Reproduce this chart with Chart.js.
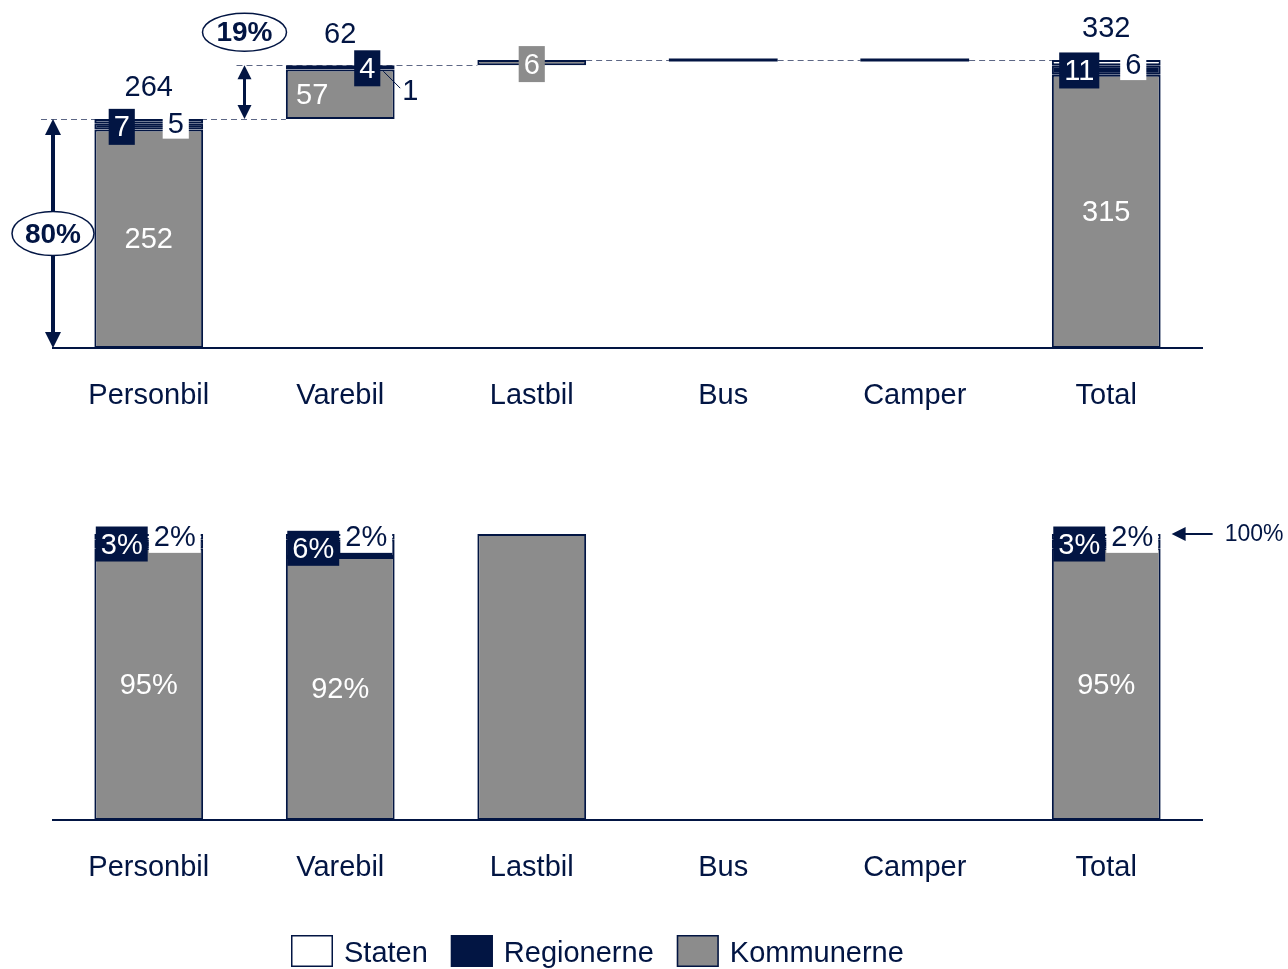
<!DOCTYPE html>
<html>
<head>
<meta charset="utf-8">
<script src="https://cdn.jsdelivr.net/npm/chart.js@4.4.1/dist/chart.umd.min.js"></script>
<style>
  html, body { margin: 0; padding: 0; background: #fff; overflow: hidden; }
  canvas { position: absolute; left: 0; }
  #topChart { top: 0; }
  #shareChart { top: 440px; }
</style>
</head>
<body>
<canvas id="topChart" width="1288" height="440"></canvas>
<canvas id="shareChart" width="1288" height="529"></canvas>
<script>
// categories and values
const categories = ['Personbil', 'Varebil', 'Lastbil', 'Bus', 'Camper', 'Total'];
const kommunerne = [252, 57, 6, 0, 0, 315];
const regionerne = [7, 4, 0, 0, 0, 11];
const staten = [5, 1, 0, 0, 0, 6];

// shares per category (%)
const kommunernePct = [95, 92, 100, 0, 0, 95];
const regionernePct = [3, 6, 0, 0, 0, 3];
const statenPct = [2, 2, 0, 0, 0, 2];

const NAVY = '#021543';
const GRAY = '#8c8c8c';
const DASH = '#5d6785';
const FONT = "'Liberation Sans', Arial, sans-serif";

// which side the Regionerne box sits on
const regSide = [-1, 1, 0, 0, 0, -1];

// waterfall offsets: running sum, Total starts at zero
const last = categories.length - 1;
const totals = categories.map((c, i) => kommunerne[i] + regionerne[i] + staten[i]);
const offsets = [];
let running = 0;
categories.forEach((c, i) => {
    if (i === last) { offsets.push(0); return; }
    offsets.push(running);
    running += totals[i];
});

const BAR_PCT = 0.568;

function barSets(k, r, s) {
    const style = { borderColor: NAVY, borderWidth: 2, borderSkipped: false, barPercentage: BAR_PCT, categoryPercentage: 1 };
    return [
        Object.assign({ label: 'Kommunerne', data: k, backgroundColor: GRAY }, style),
        Object.assign({ label: 'Regionerne', data: r, backgroundColor: NAVY }, style),
        Object.assign({ label: 'Staten', data: s, backgroundColor: '#ffffff' }, style)
    ];
}

function xAxis() {
    return {
        stacked: true,
        grid: { display: false },
        border: { display: true, color: NAVY, width: 2 },
        ticks: { color: NAVY, padding: 23, font: { size: 29, family: FONT } },
        afterFit: (scale) => { scale.height = 70; }
    };
}

// small drawing helpers
function textAt(ctx, text, x, y, color, font, align) {
    ctx.font = font || `29px ${FONT}`;
    ctx.fillStyle = color;
    ctx.textAlign = align || 'center';
    ctx.textBaseline = 'middle';
    ctx.fillText(text, x, y + 1.5);
}

function boxLabel(ctx, text, cx, cy, fill, color, h) {
    ctx.font = `29px ${FONT}`;
    const w = ctx.measureText(text).width + 10;
    ctx.fillStyle = fill;
    ctx.fillRect(cx - w / 2, cy - h / 2, w, h);
    textAt(ctx, text, cx, cy, color);
}

function vArrow(ctx, x, y0, y1, lw, hw, hh) {
    ctx.save();
    ctx.strokeStyle = NAVY;
    ctx.fillStyle = NAVY;
    ctx.lineWidth = lw;
    ctx.beginPath();
    ctx.moveTo(x, y0 + hh - 1);
    ctx.lineTo(x, y1 - hh + 1);
    ctx.stroke();
    ctx.beginPath();
    ctx.moveTo(x, y0); ctx.lineTo(x - hw / 2, y0 + hh); ctx.lineTo(x + hw / 2, y0 + hh);
    ctx.closePath(); ctx.fill();
    ctx.beginPath();
    ctx.moveTo(x, y1); ctx.lineTo(x - hw / 2, y1 - hh); ctx.lineTo(x + hw / 2, y1 - hh);
    ctx.closePath(); ctx.fill();
    ctx.restore();
}

function ellipseLabel(ctx, text, cx, cy, rx, ry) {
    ctx.save();
    ctx.beginPath();
    ctx.ellipse(cx, cy, rx, ry, 0, 0, Math.PI * 2);
    ctx.fillStyle = '#ffffff';
    ctx.fill();
    ctx.lineWidth = 1.5;
    ctx.strokeStyle = NAVY;
    ctx.stroke();
    textAt(ctx, text, cx, cy, NAVY, `bold 28px ${FONT}`);
    ctx.restore();
}

// waterfall extras: connectors, zero lines, value labels, share arrows
const waterfallNotes = {
    id: 'waterfallNotes',
    beforeDatasetsDraw(chart) {
        const { ctx, chartArea } = chart;
        const y = chart.scales.y;
        const bars = chart.getDatasetMeta(0).data;
        const half = bars[0].width / 2;
        ctx.save();
        ctx.setLineDash([6, 4]);
        ctx.strokeStyle = DASH;
        ctx.lineWidth = 1;
        for (let i = 0; i < last; i++) {
            const py = Math.round(y.getPixelForValue(offsets[i] + totals[i])) + 0.5;
            let x0 = bars[i].x + half;
            if (i === 0) x0 = chartArea.left - 12;
            if (i === 1) x0 = (bars[0].x + bars[1].x) / 2 - 8;
            ctx.beginPath();
            ctx.moveTo(x0, py);
            ctx.lineTo(bars[i + 1].x - half, py);
            ctx.stroke();
        }
        ctx.restore();
    },
    afterDatasetsDraw(chart) {
        const { ctx, chartArea } = chart;
        const y = chart.scales.y;
        const bars = chart.getDatasetMeta(0).data;
        const half = bars[0].width / 2;
        ctx.save();
        categories.forEach((c, i) => {
            const cx = bars[i].x;
            const b = offsets[i];
            const k = kommunerne[i], r = regionerne[i], s = staten[i];
            if (totals[i] === 0) {
                ctx.strokeStyle = NAVY;
                ctx.lineWidth = 3;
                ctx.beginPath();
                ctx.moveTo(cx - half, y.getPixelForValue(b));
                ctx.lineTo(cx + half, y.getPixelForValue(b));
                ctx.stroke();
                return;
            }
            const yk0 = y.getPixelForValue(b), yk1 = y.getPixelForValue(b + k);
            const yr1 = y.getPixelForValue(b + k + r), ys1 = y.getPixelForValue(b + k + r + s);
            if (r === 0 && s === 0) {
                boxLabel(ctx, String(k), cx, (yk0 + yk1) / 2 + 1.5, GRAY, '#ffffff', 36);
                return;
            }
            textAt(ctx, String(totals[i]), cx, ys1 - 32, NAVY);
            textAt(ctx, String(k), cx + (regSide[i] > 0 ? -28 : 0), (yk0 + yk1) / 2, '#ffffff');
            boxLabel(ctx, String(r), cx + regSide[i] * 27, (yk1 + yr1) / 2 + 0.5, NAVY, '#ffffff', 36);
            if (regSide[i] > 0) {
                // Staten value beside the bar with a leader line
                ctx.strokeStyle = NAVY;
                ctx.lineWidth = 1;
                ctx.beginPath();
                ctx.moveTo(cx + 43, ys1 + 6);
                ctx.lineTo(cx + 60, ys1 + 23);
                ctx.stroke();
                textAt(ctx, String(s), cx + 70, ys1 + 25, NAVY);
            } else {
                boxLabel(ctx, String(s), cx + 27, (yr1 + ys1) / 2 + 2, '#ffffff', NAVY, 31);
            }
        });

        // share of total: first bar and second bar
        const grand = totals[last];
        const y0 = y.getPixelForValue(0);
        const yA = y.getPixelForValue(totals[0]);
        const yB = y.getPixelForValue(totals[0] + totals[1]);
        const ax = chartArea.left;
        vArrow(ctx, ax, yA, y0, 4, 16, 16);
        ellipseLabel(ctx, Math.round(totals[0] / grand * 100) + '%', ax, (yA + y0) / 2, 41, 22);
        const bx = (bars[0].x + bars[1].x) / 2;
        vArrow(ctx, bx, yB, yA, 3, 14, 14);
        ellipseLabel(ctx, Math.round(totals[1] / grand * 100) + '%', bx, yB - 33, 42, 19);
        ctx.restore();
    }
};

// share chart extras: value labels, 100% marker, legend
const shareNotes = {
    id: 'shareNotes',
    afterDatasetsDraw(chart) {
        const { ctx } = chart;
        const y = chart.scales.y;
        const bars = chart.getDatasetMeta(0).data;
        const half = bars[0].width / 2;
        ctx.save();
        categories.forEach((c, i) => {
            const k = kommunernePct[i], r = regionernePct[i], s = statenPct[i];
            if (r === 0 && s === 0) return;
            const cx = bars[i].x;
            const yk0 = y.getPixelForValue(0), yk1 = y.getPixelForValue(k);
            const yr1 = y.getPixelForValue(k + r), ys1 = y.getPixelForValue(k + r + s);
            textAt(ctx, k + '%', cx, (yk0 + yk1) / 2, '#ffffff');
            boxLabel(ctx, r + '%', cx - 27, (yk1 + yr1) / 2, NAVY, '#ffffff', 35);
            boxLabel(ctx, s + '%', cx + 26, (yr1 + ys1) / 2, '#ffffff', NAVY, 32);
        });

        // 100% marker right of the Total bar
        const py = y.getPixelForValue(100);
        const tip = bars[last].x + half + 11;
        ctx.strokeStyle = NAVY;
        ctx.fillStyle = NAVY;
        ctx.lineWidth = 2;
        ctx.beginPath();
        ctx.moveTo(tip + 10, py);
        ctx.lineTo(tip + 41, py);
        ctx.stroke();
        ctx.beginPath();
        ctx.moveTo(tip, py); ctx.lineTo(tip + 14, py - 7); ctx.lineTo(tip + 14, py + 7);
        ctx.closePath(); ctx.fill();
        textAt(ctx, '100%', tip + 53, py - 1, NAVY, `23px ${FONT}`, 'left');

        // legend, Staten first
        let lx = 291;
        const ly = 495;
        chart.data.datasets.slice().reverse().forEach((ds) => {
            ctx.fillStyle = ds.backgroundColor;
            ctx.fillRect(lx, ly, 42, 32);
            ctx.strokeStyle = NAVY;
            ctx.lineWidth = 1.5;
            ctx.strokeRect(lx + 0.75, ly + 0.75, 40.5, 30.5);
            textAt(ctx, ds.label, lx + 53, ly + 17, NAVY, `29px ${FONT}`, 'left');
            lx += 53 + ctx.measureText(ds.label).width + 23;
        });
        ctx.restore();
    }
};

new Chart(document.getElementById('topChart'), {
    type: 'bar',
    data: {
        labels: categories,
        datasets: barSets(kommunerne, regionerne, staten)
    },
    options: {
        responsive: false,
        animation: false,
        layout: { padding: { top: 1, bottom: 22, left: 53, right: 86 } },
        scales: {
            x: xAxis(),
            y: { stacked: true, display: false, min: 0, max: 400 }
        },
        plugins: { legend: { display: false }, tooltip: { enabled: false } }
    },
    plugins: [waterfallNotes]
});

// floating base under each waterfall step
const topChart = Chart.getChart('topChart');
topChart.data.datasets.unshift({
    label: 'base', data: offsets, backgroundColor: 'rgba(0,0,0,0)', borderWidth: 0,
    barPercentage: BAR_PCT, categoryPercentage: 1
});
topChart.update();

new Chart(document.getElementById('shareChart'), {
    type: 'bar',
    data: {
        labels: categories,
        datasets: barSets(kommunernePct, regionernePct, statenPct)
    },
    options: {
        responsive: false,
        animation: false,
        layout: { padding: { top: 65.4, bottom: 79, left: 53, right: 86 } },
        scales: {
            x: xAxis(),
            y: { stacked: true, display: false, min: 0, max: 110 }
        },
        plugins: { legend: { display: false }, tooltip: { enabled: false } }
    },
    plugins: [shareNotes]
});
</script>
</body>
</html>
